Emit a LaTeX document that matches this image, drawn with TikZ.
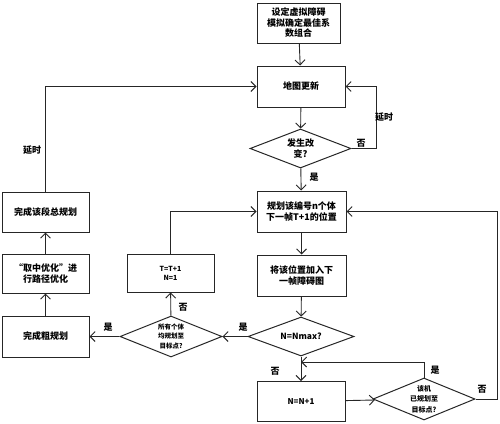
\documentclass[tikz,border=0pt]{standalone}
\usepackage{fontspec}
\newfontfamily\cjk{Noto Sans CJK SC}
\usetikzlibrary{arrows.meta, positioning, shapes.geometric}

\begin{document}
\begin{tikzpicture}[x=1pt, y=-1pt,
    box/.style={draw=black!85, line width=1pt, minimum width=87pt, minimum height=40pt,
        inner sep=1pt, align=center, font=\cjk\bfseries\fontsize{9}{10.5}\selectfont},
    decision/.style={diamond, draw=black!85, line width=1pt, inner sep=0pt, aspect=2.5,
        minimum width=102pt, minimum height=40pt, align=center, font=\cjk\bfseries\fontsize{9}{10.5}\selectfont},
    flow/.style={draw=black!85, line width=0.9pt, -{Straight Barb[length=5pt, width=10pt]}},
    lbl/.style={font=\cjk\bfseries\fontsize{9}{10}\selectfont, inner sep=0pt}]
    \useasboundingbox (0,0) rectangle (500,423);

    % Top of the loop
    \node[box, minimum width=83pt] (setup) at (298.5,23) {设定虚拟障碍\\模拟确定最佳系\\数组合};
    \node[box, minimum width=88pt, minimum height=41pt] (update) at (301,86.5) {地图更新};
    \node[decision, minimum width=101pt, minimum height=39pt] (changed) at (300.5,148.5) {发生改\\变?};

    % Planning column
    \node[box, minimum width=89pt, minimum height=41pt] (plan) at (301.5,211.5) {规划该编号n个体\\下一帧T+1的位置};
    \node[box, minimum width=89pt, minimum height=41pt] (addobs) at (301.5,275.5) {将该位置加入下\\一帧障碍图};
    \node[decision, minimum width=106pt, minimum height=39pt, font=\cjk\bfseries\fontsize{8.5}{10}\selectfont] (nmax) at (301,336.5) {N=Nmax?};
    \node[box, minimum width=88pt, font=\cjk\bfseries\fontsize{8}{10}\selectfont] (nplus) at (301,401.5) {N=N+1};
    \node[decision, minimum height=42pt, font=\cjk\bfseries\fontsize{7}{10.5}\selectfont] (reached) at (424,399) {该机\\已规划至\\目标点?};
    \coordinate (join) at (301,362);

    % Left columns
    \node[decision, minimum height=41pt, font=\cjk\bfseries\fontsize{6.5}{9.5}\selectfont] (allreached) at (171,336.5) {所有个体\\均规划至\\目标点?};
    \node[box, minimum height=38pt, font=\cjk\bfseries\fontsize{7}{9}\selectfont] (tplus) at (170.5,273) {T=T+1\\N=1};
    \node[box, minimum height=41pt] (rough) at (45.5,336.5) {完成粗规划};
    \node[box, minimum height=39pt] (midopt) at (45.5,273.5) {“取中优化”进\\行路径优化};
    \node[box] (segment) at (45.5,212) {完成该段总规划};

    % Connectors
    \draw[flow] (setup) -- (update);
    \draw[flow] (update) -- (changed);
    \draw[flow] (changed.east) -- ++(24.5,0) |- (update.east);
    \draw[flow] (changed) -- (plan);
    \draw[flow] (plan) -- (addobs);
    \draw[flow] (addobs) -- (nmax);
    \draw[flow] (nmax) -- (nplus);
    \draw[flow] (nplus) -- (reached);
    \draw[flow] (reached.north) |- (join);
    \draw[flow] (reached.east) -- ++(22,0) |- (plan.east);
    \draw[flow] (nmax) -- (allreached);
    \draw[flow] (allreached) -- (rough);
    \draw[flow] (allreached) -- (tplus);
    \draw[flow] (tplus.north) |- (plan.west);
    \draw[flow] (rough) -- (midopt);
    \draw[flow] (midopt) -- (segment);
    \draw[flow] (segment.north) |- (update.west);

    % Labels
    \node[lbl] (no1) at (361,143) {否};
    \node[lbl] (wait1) at (384,117) {延时};
    \node[lbl] (yes1) at (314,177) {是};
    \node[lbl] (yes2) at (243,327) {是};
    \node[lbl] (no2) at (275,371) {否};
    \node[lbl] (yes3) at (435,370) {是};
    \node[lbl] (no3) at (482,389) {否};
    \node[lbl] (yes4) at (108,327) {是};
    \node[lbl] (no4) at (183,307) {否};
    \node[lbl] (wait2) at (32,150) {延时};
\end{tikzpicture}
\end{document}
